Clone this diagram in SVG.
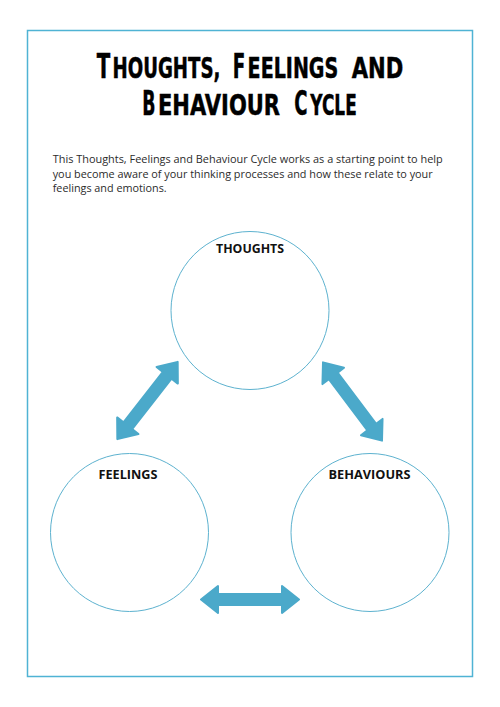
<svg xmlns="http://www.w3.org/2000/svg" width="500" height="707" viewBox="0 0 500 707">
  <defs>
    <style>
      .title { font-family: "DejaVu Sans", "Liberation Sans", sans-serif; font-weight: bold; fill: #000; stroke: #000; stroke-width: 0.5; }
      .big { font-size: 33.3px; }
      .sm { font-size: 27.5px; }
      .para { font-family: "Open Sans", "Liberation Sans", sans-serif; font-size: 10.5px; fill: #2b2b2b; }
      .label { font-family: "Open Sans", "Liberation Sans", sans-serif; font-size: 11.5px; font-weight: bold; fill: #111; text-anchor: middle; }
      .circle { fill: #fff; stroke: #5db2cf; stroke-width: 1; }
      .arrow { fill: #4ba9ca; stroke: #4ba9ca; stroke-width: 2; stroke-linejoin: round; }
    </style>
    <path id="dblArrow" d="M -49,0 L -32,-13.5 L -32,-5.5 L 32,-5.5 L 32,-13.5 L 49,0 L 32,13.5 L 32,5.5 L -32,5.5 L -32,13.5 Z"/>
  </defs>
  <rect x="0" y="0" width="500" height="707" fill="#fff"/>
  <rect x="27.5" y="30.5" width="445" height="646" fill="none" stroke="#4fb3d4" stroke-width="1.5"/>

  <g id="title">
    <text class="title big" transform="translate(96.7,78.3) scale(0.6,1)" textLength="22.5" lengthAdjust="spacingAndGlyphs">T</text>
    <text class="title sm" transform="translate(112.5,78.3) scale(0.66,1)" textLength="163.6" lengthAdjust="spacingAndGlyphs">HOUGHTS,</text>
    <text class="title big" transform="translate(232.7,78.3) scale(0.55,1)" textLength="22.7" lengthAdjust="spacingAndGlyphs">F</text>
    <text class="title sm" transform="translate(247.6,78.3) scale(0.69,1)" textLength="131.4" lengthAdjust="spacingAndGlyphs">EELINGS</text>
    <text class="title sm" transform="translate(351.7,78.3) scale(0.76,1)" textLength="67.9" lengthAdjust="spacingAndGlyphs">AND</text>
    <text class="title big" transform="translate(142.3,115.3) scale(0.52,1)" textLength="25.4" lengthAdjust="spacingAndGlyphs">B</text>
    <text class="title sm" transform="translate(158,115.3) scale(0.75,1)" textLength="162.7" lengthAdjust="spacingAndGlyphs">EHAVIOUR</text>
    <text class="title big" transform="translate(294.3,115.3) scale(0.54,1)" textLength="24.6" lengthAdjust="spacingAndGlyphs">C</text>
    <text class="title sm" transform="translate(310.3,115.3) scale(0.6,1)" textLength="77.3" lengthAdjust="spacingAndGlyphs">YCLE</text>
  </g>

  <g id="intro">
    <text class="para" x="52.7" y="163" textLength="390" lengthAdjust="spacingAndGlyphs">This Thoughts, Feelings and Behaviour Cycle works as a starting point to help</text>
    <text class="para" x="52.7" y="177.5" textLength="380" lengthAdjust="spacingAndGlyphs">you become aware of your thinking processes and how these relate to your</text>
    <text class="para" x="52.7" y="192" textLength="114" lengthAdjust="spacingAndGlyphs">feelings and emotions.</text>
  </g>

  <g id="connectors">
    <use href="#dblArrow" class="arrow" transform="translate(147.5,400.5) rotate(-52)"/>
    <use href="#dblArrow" class="arrow" transform="translate(352.5,401.5) rotate(53)"/>
    <use href="#dblArrow" class="arrow" transform="translate(250,599.5)"/>
  </g>

  <g id="node-thoughts">
    <circle class="circle" cx="250" cy="310.5" r="79"/>
    <text class="label" x="250" y="253" textLength="68" lengthAdjust="spacingAndGlyphs">THOUGHTS</text>
  </g>
  <g id="node-feelings">
    <circle class="circle" cx="129.5" cy="532.5" r="79"/>
    <text class="label" x="128" y="479" textLength="59" lengthAdjust="spacingAndGlyphs">FEELINGS</text>
  </g>
  <g id="node-behaviours">
    <circle class="circle" cx="370" cy="532.5" r="79"/>
    <text class="label" x="369.5" y="479" textLength="82" lengthAdjust="spacingAndGlyphs">BEHAVIOURS</text>
  </g>
</svg>
